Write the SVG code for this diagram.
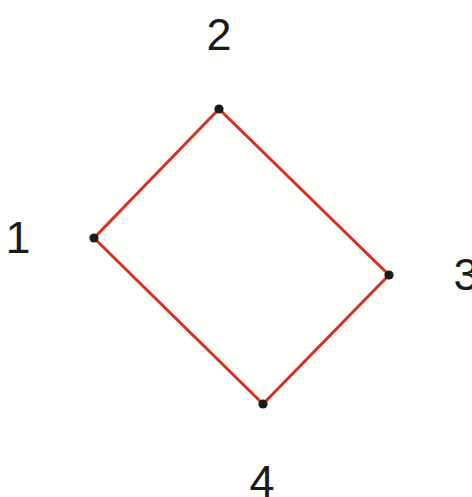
<svg xmlns="http://www.w3.org/2000/svg" width="472" height="497" viewBox="0 0 472 497">
<style>
.edge{stroke:#d9301c;stroke-width:3;fill:none;stroke-linecap:round}
.dot{fill:#1a1a1a}
.lbl{font-family:"Liberation Sans",Arial,sans-serif;font-size:45px;fill:#1a1a1a;text-anchor:middle}
</style>
<rect width="472" height="497" fill="#fffffd"/>
<g id="connectors">
<line class="edge" x1="94" y1="238" x2="219" y2="109"/>
<line class="edge" x1="219" y1="109" x2="389" y2="275"/>
<line class="edge" x1="389" y1="275" x2="263" y2="404"/>
<line class="edge" x1="263" y1="404" x2="94" y2="238"/>
</g>
<g id="node1"><circle class="dot" cx="94" cy="238" r="4.6"/><text class="lbl" x="18" y="253">1</text></g>
<g id="node2"><circle class="dot" cx="219" cy="109" r="4.6"/><text class="lbl" x="219" y="50">2</text></g>
<g id="node3"><circle class="dot" cx="389" cy="275" r="4.6"/><text class="lbl" x="466" y="290">3</text></g>
<g id="node4"><circle class="dot" cx="263" cy="404" r="4.6"/><text class="lbl" x="262" y="497">4</text></g>
</svg>
